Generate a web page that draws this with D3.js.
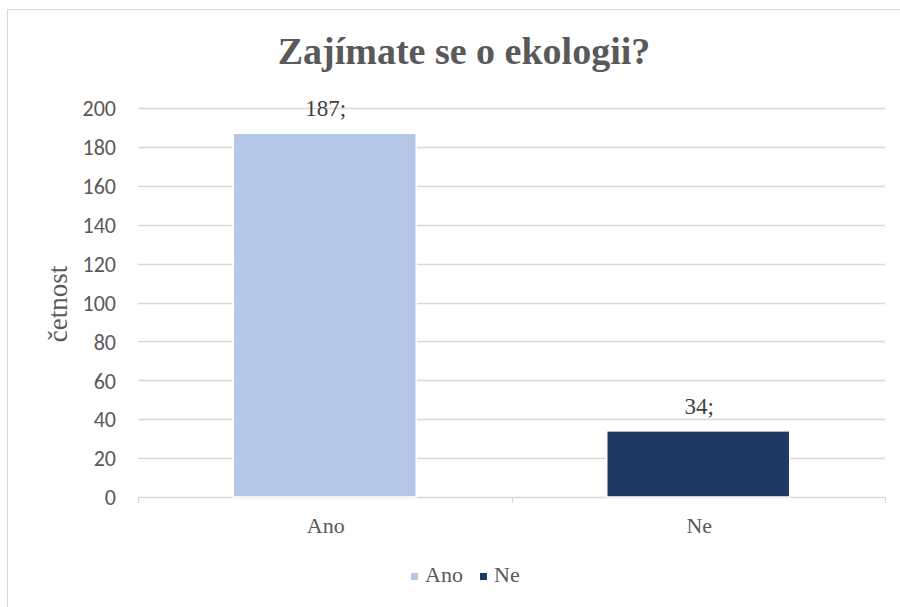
<!DOCTYPE html>
<html>
<head>
<meta charset="utf-8">
<script src="https://cdn.jsdelivr.net/npm/d3@7"></script>
<style>
  html, body { margin: 0; padding: 0; background: #fff; }
  svg { display: block; }
</style>
</head>
<body>
<svg id="chart" width="900" height="607"></svg>
<script>
// Survey answers: "Are you interested in ecology?"
const categories = ["Ano", "Ne"];
const counts = [187, 34];
const colors = ["#b4c7e7", "#203864"];
const yTicks = [0, 20, 40, 60, 80, 100, 120, 140, 160, 180, 200];

const svg = d3.select("#chart");
const W = 900, H = 607;
const serif = "'Liberation Serif', 'Times New Roman', serif";
const sans = "Carlito, Calibri, 'Open Sans', 'Liberation Sans', sans-serif";
const textGrey = "#595959";

// chart area frame
svg.append("rect")
  .attr("x", 7.5).attr("y", 9.5)
  .attr("width", W).attr("height", H)
  .attr("fill", "#fff").attr("stroke", "#d9d9d9").attr("stroke-width", 1);

const x = d3.scaleBand().domain(categories).range([138, 885]).paddingInner(0.51).paddingOuter(0.255);
const y = d3.scaleLinear().domain([0, 200]).range([497, 108]);

// gridlines
svg.append("g").selectAll("line").data(yTicks).join("line")
  .attr("x1", 138).attr("x2", 885)
  .attr("y1", d => Math.round(y(d)) + 0.5).attr("y2", d => Math.round(y(d)) + 0.5)
  .attr("stroke", "#d9d9d9").attr("stroke-width", 1.3);

// value axis labels
const yAxis = d3.axisLeft(y).tickValues(yTicks).tickSize(0).tickPadding(0);
const gy = svg.append("g").attr("transform", "translate(116,0)").call(yAxis);
gy.select(".domain").remove();
gy.selectAll("text").attr("font-family", sans).attr("font-size", 22).attr("fill", textGrey).attr("dy", "0.35em");

// category axis tick marks between categories
svg.append("g").selectAll("line").data([0, 1, 2]).join("line")
  .attr("x1", i => Math.round(138 + i * x.step()) + 0.5)
  .attr("x2", i => Math.round(138 + i * x.step()) + 0.5)
  .attr("y1", 497).attr("y2", 503)
  .attr("stroke", "#d9d9d9").attr("stroke-width", 1.3);

svg.append("g").selectAll("text").data(categories).join("text")
  .attr("x", d => x(d) + x.bandwidth() / 2 + 1)
  .attr("y", 533)
  .attr("text-anchor", "middle")
  .attr("font-family", serif).attr("font-size", 22).attr("fill", textGrey)
  .text(d => d);

// bars
const data = categories.map((c, i) => ({ c, v: counts[i], color: colors[i] }));
svg.append("g").selectAll("rect").data(data).join("rect")
  .attr("x", d => x(d.c))
  .attr("y", d => y(d.v))
  .attr("width", x.bandwidth())
  .attr("height", d => y(0) - y(d.v))
  .attr("fill", d => d.color)
  .attr("stroke", "#fff").attr("stroke-width", 1.5);

// data labels
svg.append("g").selectAll("text").data(data).join("text")
  .attr("x", d => x(d.c) + x.bandwidth() / 2 + 1)
  .attr("y", d => y(d.v) - 17)
  .attr("text-anchor", "middle")
  .attr("font-family", serif).attr("font-size", 23).attr("fill", "#404040")
  .text(d => d.v + ";");

// title
svg.append("text")
  .attr("x", 464).attr("y", 64)
  .attr("text-anchor", "middle")
  .attr("font-family", serif).attr("font-size", 38).attr("font-weight", "bold")
  .attr("fill", textGrey)
  .text("Zajímate se o ekologii?");

// axis title
svg.append("text")
  .attr("transform", "translate(67,304) rotate(-90)")
  .attr("text-anchor", "middle")
  .attr("font-family", serif).attr("font-size", 27).attr("fill", textGrey)
  .text("četnost");

// legend
const legendX = [411, 480];
const legend = svg.append("g");
data.forEach((d, i) => {
  const g = legend.append("g").attr("transform", `translate(${legendX[i]},0)`);
  g.append("rect").attr("x", 0).attr("y", 573).attr("width", 7).attr("height", 7).attr("fill", d.color);
  g.append("text").attr("x", 14).attr("y", 582)
    .attr("font-family", serif).attr("font-size", 22).attr("fill", textGrey)
    .text(d.c);
});
</script>
</body>
</html>
